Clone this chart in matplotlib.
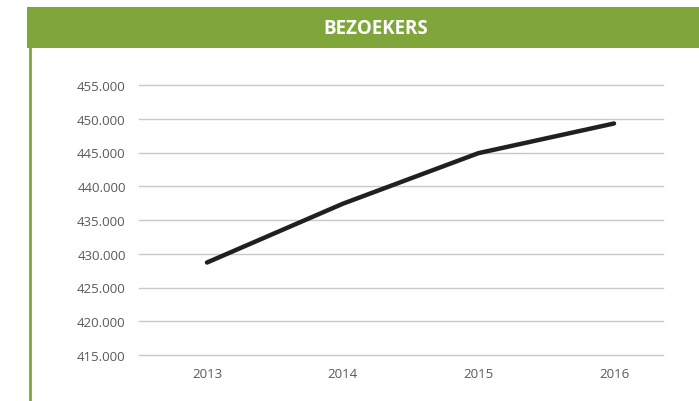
import matplotlib
matplotlib.use("Agg")
import matplotlib.pyplot as plt
from matplotlib.patches import Rectangle
from matplotlib.lines import Line2D
from matplotlib.ticker import FuncFormatter

years = ["2013", "2014", "2015", "2016"]
visitors = [428700, 437400, 444900, 449300]
title = "BEZOEKERS"

W, H = 699, 402
fig = plt.figure(figsize=(W / 100, H / 100), dpi=100)
plt.rcParams['font.family'] = ['Open Sans', 'DejaVu Sans']

green = "#7FA63B"
# banner
fig.patches.append(Rectangle((27 / W, 1 - 49 / H), 1 - 27 / W, 41 / H,
                             transform=fig.transFigure, facecolor=green,
                             edgecolor="none", zorder=0))
fig.text(376 / W, 1 - 28.5 / H, title, color="white", fontsize=13.5,
         fontweight="bold", ha="center", va="center")
# vertical green line
fig.lines.append(Line2D([29.8 / W, 29.8 / W], [0, 1 - 49 / H],
                        transform=fig.transFigure, color=green, lw=2.0))

ax = fig.add_axes([139 / W, 1 - 356 / H, (663 - 139) / W, (356 - 86) / H])
x = list(range(len(years)))
ax.plot(x, visitors, color="#231F20", lw=3.2, solid_capstyle="round", zorder=3)
ax.set_xlim(-0.501, 3.361)
ax.set_ylim(415000, 455000)
ax.set_yticks(range(415000, 455001, 5000))
ax.yaxis.set_major_formatter(FuncFormatter(lambda v, p: f"{int(v):,}".replace(",", ".")))
ax.set_xticks(x)
ax.set_xticklabels(years)
ax.grid(axis="y", color="#C9C9C9", lw=1.0)
for gl in ax.get_ygridlines():
    gl.set_clip_on(False)
ax.set_axisbelow(True)
for s in ax.spines.values():
    s.set_visible(False)
ax.tick_params(axis="both", length=0, labelsize=9.5, labelcolor="#595959")
ax.tick_params(axis="y", pad=9.5)
ax.tick_params(axis="x", pad=8.5)

fig.savefig("out.png", dpi=100)
